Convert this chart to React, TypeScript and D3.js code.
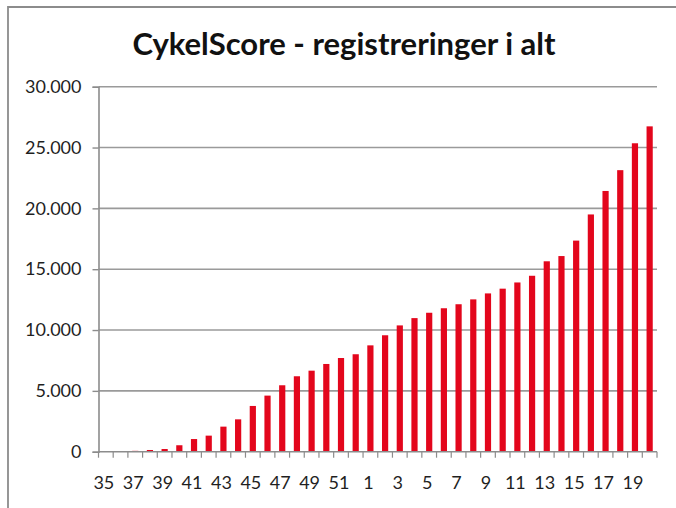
import React, { useEffect, useRef } from 'react';
import * as d3 from 'd3';

// week numbers (autumn -> spring)
const weeks = [
  '35', '36', '37', '38', '39', '40', '41', '42', '43', '44', '45', '46', '47', '48', '49', '50', '51', '52',
  '1', '2', '3', '4', '5', '6', '7', '8', '9', '10', '11', '12', '13', '14', '15', '16', '17', '18', '19', '20',
];

// total registrations
const registrations = [
  0, 0, 70, 140, 220, 530, 1040, 1320, 2060, 2660, 3760, 4610, 5460, 6200, 6660, 7210, 7700, 8010,
  8740, 9570, 10380, 10980, 11420, 11790, 12120, 12520, 13010, 13400, 13910, 14460, 15650, 16080, 17350, 19500,
  21430, 23140, 25350, 26740,
];

const yTicks = [0, 5000, 10000, 15000, 20000, 25000, 30000];

const title = 'CykelScore - registreringer i alt';

const W = 676;
const H = 508;

const App = () => {
  const ref = useRef<SVGSVGElement | null>(null);

  useEffect(() => {
    document.body.style.margin = '0';
    document.body.style.overflow = 'hidden';

    const svg = d3.select(ref.current);
    svg.selectAll('*').remove();

    const left = 98.5;
    const right = 657;
    const top = 86.7;
    const bottom = 451.7;

    const x = d3.scaleBand<string>().domain(weeks).range([left, right]).paddingInner(0).paddingOuter(0);
    const y = d3.scaleLinear().domain([0, 30000]).range([bottom, top]);

    const locale = d3.formatLocale({ decimal: ',', thousands: '.', grouping: [3], currency: ['', ''] });
    const fmt = locale.format(',');

    // frame: only the left and top edges show in the crop
    svg
      .append('path')
      .attr('d', `M8,${H} L8,7 L${W},7`)
      .attr('fill', 'none')
      .attr('stroke', '#8c8c8c')
      .attr('stroke-width', 1.8);

    svg
      .append('text')
      .attr('x', 344)
      .attr('y', 55)
      .attr('text-anchor', 'middle')
      .style('font-family', 'Lato, sans-serif')
      .style('font-weight', 'bold')
      .style('font-size', '31px')
      .style('fill', '#111')
      .text(title);

    // gridlines
    svg
      .append('g')
      .selectAll('line')
      .data(yTicks.filter((d) => d > 0))
      .enter()
      .append('line')
      .attr('x1', left)
      .attr('x2', right)
      .attr('y1', (d) => y(d))
      .attr('y2', (d) => y(d))
      .attr('stroke', '#9a9a9a')
      .attr('stroke-width', 1.6);

    // y axis
    const yAxis = svg
      .append('g')
      .attr('transform', `translate(${left},0)`)
      .call(d3.axisLeft(y).tickValues(yTicks).tickFormat((d) => fmt(d as number)).tickSize(6).tickPadding(11));
    yAxis.select('.domain').attr('stroke', '#8c8c8c').attr('stroke-width', 1.6);
    yAxis.selectAll('.tick line').attr('stroke', '#8c8c8c').attr('stroke-width', 1.4);
    yAxis
      .selectAll('.tick text')
      .style('font-family', 'Lato, sans-serif')
      .style('font-size', '18px')
      .style('fill', '#1f1f1f');

    // bars
    const barW = 6.2;
    svg
      .append('g')
      .selectAll('rect')
      .data(registrations)
      .enter()
      .append('rect')
      .attr('x', (_, i) => (x(weeks[i]) as number) + x.bandwidth() / 2 - barW / 2)
      .attr('y', (d) => y(d))
      .attr('width', barW)
      .attr('height', (d) => bottom - y(d))
      .attr('fill', '#e3061c');

    // x axis
    const xAxis = svg.append('g').attr('transform', `translate(0,${bottom})`);
    xAxis
      .append('line')
      .attr('x1', left)
      .attr('x2', right)
      .attr('stroke', '#8c8c8c')
      .attr('stroke-width', 1.6);
    xAxis
      .selectAll('line.tk')
      .data(d3.range(weeks.length + 1))
      .enter()
      .append('line')
      .attr('class', 'tk')
      .attr('x1', (i) => left + i * x.bandwidth())
      .attr('x2', (i) => left + i * x.bandwidth())
      .attr('y1', 0)
      .attr('y2', 6)
      .attr('stroke', '#8c8c8c')
      .attr('stroke-width', 1.2);
    xAxis
      .selectAll('text')
      .data(weeks.filter((_, i) => i % 2 === 0))
      .enter()
      .append('text')
      .attr('x', (d) => (x(d) as number) + x.bandwidth() / 2 - 2)
      .attr('y', 37)
      .attr('text-anchor', 'middle')
      .style('font-family', 'Lato, sans-serif')
      .style('font-size', '18px')
      .style('fill', '#1f1f1f')
      .text((d) => d);
  }, []);

  return (
    <div style={{ position: 'absolute', left: 0, top: 0, width: W, height: H, background: '#fff' }}>
      <svg ref={ref} width={W} height={H} style={{ display: 'block' }} />
    </div>
  );
};

export default App;
